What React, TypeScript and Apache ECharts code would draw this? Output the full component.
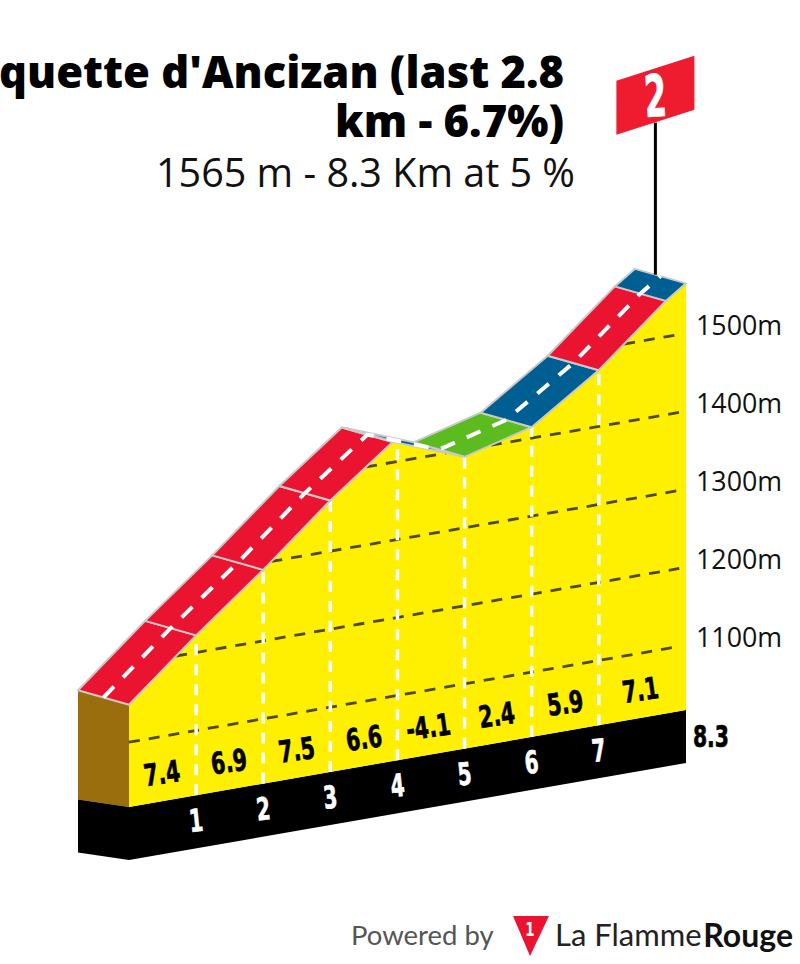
import React, { useEffect, useRef } from "react";
import * as echarts from "echarts";

const profileKm = [0, 1, 2, 3, 3.93, 4, 5, 6, 7, 8, 8.3];
const profileEle = [1148, 1222, 1291, 1365, 1426, 1424, 1391, 1414, 1472, 1546, 1564];
const segmentColors = ["#ea1431", "#ea1431", "#ea1431", "#ea1431", "#005f92", "#005f92", "#5bbb1f", "#005f92", "#ea1431", "#005f92"];
const kmMarks = [1, 2, 3, 4, 5, 6, 7];
const gradientLabels = ["7.4", "6.9", "7.5", "6.6", "-4.1", "2.4", "5.9", "7.1"];
const gradientKm = [0.49, 1.49, 2.5, 3.5, 4.46, 5.48, 6.5, 7.62];
const elevationTicks = [1100, 1200, 1300, 1400, 1500];
const totalKm = 8.3;
const baseEle = 1017;
const floorEle = 949;

const SHEAR = 11.68;
const ROAD_DX = -51;
const ROAD_DY = -14.5;
const SIDE_DY = -7.5;
const FONT_HEAVY = '"DejaVu Sans", sans-serif';
const FONT_SANS = '"Open Sans", sans-serif';

const project = (api: any, km: number, ele: number): number[] => {
  const p = api.coord([km, ele]);
  return [p[0], p[1] + (totalKm - km) * SHEAR];
};
const back = (p: number[], dy = ROAD_DY) => [p[0] + ROAD_DX, p[1] + dy];
const eleAt = (km: number) => profileEle[profileKm.indexOf(km)];

const gridSpans = (level: number): number[][] => {
  const spans: number[][] = [];
  let start: number | null = profileEle[0] >= level ? profileKm[0] : null;
  for (let i = 1; i < profileKm.length; i++) {
    const a = profileEle[i - 1];
    const b = profileEle[i];
    if ((a < level) !== (b < level)) {
      const k = profileKm[i - 1] + ((level - a) / (b - a)) * (profileKm[i] - profileKm[i - 1]);
      if (start === null) start = k;
      else {
        spans.push([start, k]);
        start = null;
      }
    }
  }
  if (start !== null) spans.push([start, 8.2]);
  return spans;
};

const renderBase = (_: any, api: any) => {
  const l = project(api, 0, baseEle);
  const r = project(api, totalKm, baseEle);
  const lf = project(api, 0, floorEle);
  const rf = project(api, totalKm, floorEle);
  const top = project(api, 0, profileEle[0]);
  const outline = profileKm.map((k, i) => project(api, k, profileEle[i]));
  const poly = (points: number[][], fill: string) => ({ type: "polygon", shape: { points }, style: { fill } });
  return {
    type: "group",
    children: [
      poly([back(top), top, l, back(l, SIDE_DY)], "#9a6d0d"),
      poly([back(l, SIDE_DY), l, lf, back(lf, SIDE_DY)], "#000000"),
      poly([l, r, rf, lf], "#000000"),
      poly([...outline, r, l], "#ffef00"),
    ],
  };
};

const renderGrid = (_: any, api: any) => {
  const level = api.value(0);
  return {
    type: "group",
    children: gridSpans(level).map(([a, b]) => {
      const p1 = project(api, a, level);
      const p2 = project(api, b, level);
      return {
        type: "line",
        shape: { x1: p1[0], y1: p1[1], x2: p2[0], y2: p2[1] },
        style: { stroke: "#4d4a12", lineWidth: 2.8, lineDash: [11, 9] },
      };
    }),
  };
};

const renderKmLine = (_: any, api: any) => {
  const km = api.value(0);
  const p1 = project(api, km, baseEle);
  const p2 = project(api, km, eleAt(km));
  return {
    type: "line",
    shape: { x1: p1[0], y1: p1[1], x2: p2[0], y2: p2[1] },
    style: { stroke: "#ffffff", lineWidth: 3.5, lineDash: [11, 9] },
  };
};

const renderRoad = (_: any, api: any) => {
  const i = api.value(0);
  const a = project(api, profileKm[i], profileEle[i]);
  const b = project(api, profileKm[i + 1], profileEle[i + 1]);
  return {
    type: "polygon",
    shape: { points: [a, b, back(b), back(a)] },
    style: { fill: segmentColors[i], stroke: "#c9c9c9", lineWidth: 2, lineJoin: "round" },
  };
};

const renderCentre = (_: any, api: any) => {
  const points = profileKm.map((k, i) => {
    const p = project(api, k, profileEle[i]);
    return [p[0] + ROAD_DX / 2, p[1] + ROAD_DY / 2];
  });
  return {
    type: "polyline",
    shape: { points },
    style: { stroke: "#ffffff", fill: "none", lineWidth: 4, lineDash: [15, 13] },
  };
};

const heavyText = (text: string, x: number, y: number, fill: string, size: number, scaleX: number, rotation: number) => ({
  type: "text",
  x,
  y,
  rotation,
  scaleX,
  style: { text, fill, stroke: fill, lineWidth: 0.7, font: `bold ${size}px ${FONT_HEAVY}`, align: "center", verticalAlign: "middle" },
});

const renderGradient = (_: any, api: any) => {
  const i = api.value(0);
  const p = project(api, gradientKm[i], baseEle);
  return heavyText(gradientLabels[i], p[0], p[1] - 28, "#000000", 30, 0.68, 0.14);
};

const renderKmLabel = (_: any, api: any) => {
  const km = api.value(0);
  const p = project(api, km, baseEle);
  return heavyText(String(km), p[0], p[1] + 25.5, "#ffffff", 31, 0.64, 0.1);
};

const renderSummit = (_: any, api: any) => {
  const p = project(api, totalKm, profileEle[profileEle.length - 1]);
  const x = p[0] + ROAD_DX * 0.6;
  const y = p[1] + ROAD_DY * 0.6;
  const labelPos = project(api, totalKm, baseEle);
  return {
    type: "group",
    children: [
      { type: "line", shape: { x1: x, y1: y, x2: x, y2: y - 152 }, style: { stroke: "#000000", lineWidth: 3 } },
      {
        type: "polygon",
        shape: { points: [[x - 39, y - 194], [x + 39, y - 219], [x + 39, y - 165], [x - 39, y - 140]] },
        style: { fill: "#ee1c2e" },
      },
      heavyText("2", x, y - 178, "#ffffff", 58, 0.55, 0.06),
      heavyText(String(totalKm), labelPos[0] + 25, labelPos[1] + 26, "#000000", 30, 0.68, 0),
    ],
  };
};

const custom = (renderItem: any, data: number[]) => ({
  type: "custom",
  coordinateSystem: "cartesian2d",
  renderItem,
  data: data.map((v) => [v]),
  encode: { x: -1, y: -1 },
  silent: true,
  clip: false,
});

export default function App() {
  const ref = useRef<HTMLDivElement>(null);
  useEffect(() => {
    const chart = echarts.init(ref.current!, undefined, { renderer: "svg" });
    chart.setOption({
      animation: false,
      backgroundColor: "#ffffff",
      title: [
        {
          text: "Hourquette d'Ancizan (last 2.8\nkm - 6.7%)",
          left: 564,
          top: 47,
          textAlign: "right",
          padding: 0,
          textStyle: { fontFamily: "Open Sans", fontWeight: 800, fontSize: 43.5, lineHeight: 49, color: "#000000" },
        },
        {
          text: "1565 m - 8.3 Km at 5 %",
          left: 575,
          top: 148,
          textAlign: "right",
          padding: 0,
          textStyle: { fontFamily: "Open Sans", fontWeight: 400, fontSize: 39.5, lineHeight: 48, color: "#111111" },
        },
      ],
      grid: { left: 129, width: 557, top: 255.26, height: 546, containLabel: false },
      xAxis: { type: "value", min: 0, max: totalKm, show: false },
      yAxis: {
        type: "value",
        min: 900,
        max: 1600,
        interval: 100,
        position: "right",
        axisLine: { show: false },
        axisTick: { show: false },
        splitLine: { show: false },
        axisLabel: {
          show: true,
          margin: 10,
          verticalAlign: "bottom",
          lineHeight: 18,
          fontFamily: FONT_SANS,
          fontSize: 26.8,
          color: "#111111",
          formatter: (v: number) => (elevationTicks.includes(v) ? `${v}m` : ""),
        },
      },
      series: [
        custom(renderBase, [0]),
        custom(renderGrid, elevationTicks),
        custom(renderKmLine, kmMarks),
        custom(renderRoad, segmentColors.map((_, i) => i)),
        custom(renderCentre, [0]),
        custom(renderGradient, gradientLabels.map((_, i) => i)),
        custom(renderKmLabel, kmMarks),
        custom(renderSummit, [0]),
      ],
      graphic: [
        { type: "text", x: 351, y: 934, style: { text: "Powered by", fill: "#555555", font: `400 27.5px Lato, sans-serif`, verticalAlign: "middle" } },
        { type: "polygon", shape: { points: [[513, 916], [549, 916], [530, 956]] }, style: { fill: "#ea1431" } },
        { type: "text", x: 530, y: 930, scaleX: 0.7, style: { text: "1", fill: "#ffffff", font: `bold 19px ${FONT_HEAVY}`, align: "center", verticalAlign: "middle" } },
        { type: "text", x: 555, y: 934, style: { text: "La Flamme", fill: "#222222", font: `400 31px Lato, sans-serif`, verticalAlign: "middle" } },
        { type: "text", x: 793, y: 934, style: { text: "Rouge", fill: "#111111", font: `700 32px Lato, sans-serif`, align: "right", verticalAlign: "middle" } },
      ],
    });
    return () => chart.dispose();
  }, []);
  return <div ref={ref} style={{ position: "absolute", left: 0, top: 0, width: 800, height: 964 }} />;
}
